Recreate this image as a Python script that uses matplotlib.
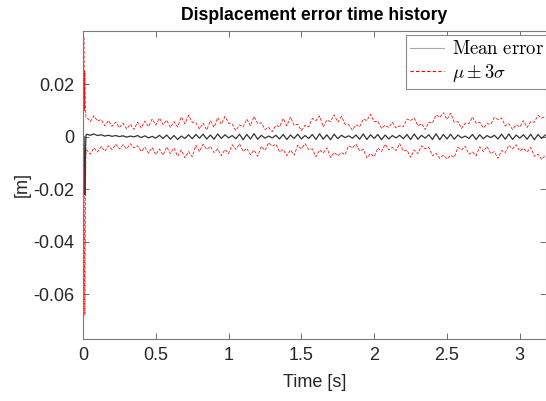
import matplotlib
matplotlib.use('Agg')
import matplotlib.pyplot as plt
from matplotlib.lines import Line2D
import numpy as np

plt.rcParams['font.family'] = ['Liberation Sans', 'DejaVu Sans']
plt.rcParams['mathtext.fontset'] = 'cm'
plt.rcParams['axes.unicode_minus'] = False

# start-up transient (s, mm)
t_start = [0.007, 0.01, 0.013, 0.016, 0.02]
mean_start = [0.0, -8.0, -22.0, -10.0, 0.5]
upper_start = [38.0, 10.0, 25.0, 12.0, 7.5]
lower_start = [-12.0, -40.0, -68.0, -30.0, -6.0]

# steady part, sampled every 0.025 s from 0.025 s (values in mm)
mean_mm = [
    1.0, 0.6, 1.1, 0.5, 0.8, 0.3, 0.6, 0.2, 0.5, 0.1,
    0.4, -0.1, 0.3, 0.0, 0.5, -0.3, 0.4, -0.4, 0.2, -0.5,
    0.6, -0.6, 0.7, -0.9, 0.5, -1.0, 0.3, -0.6, 0.8, -0.7,
    0.9, -0.5, 1.0, -0.8, 0.7, -0.9, 1.1, -0.6, 0.8, -0.4,
    0.5, -0.7, 1.0, -1.1, 0.9, -0.8, 1.2, -0.9, 0.6, -0.5,
    0.3, -0.4, 0.6, -0.8, 0.9, -1.0, 0.7, -0.6, 1.0, -0.8,
    0.5, -0.6, 0.9, -1.0, 1.2, -0.9, 0.8, -1.1, 1.0, -0.7,
    0.6, -0.3, 0.4, -0.5, 0.7, -0.9, 1.1, -1.0, 0.8, -0.6,
    0.9, -1.1, 0.7, -0.8, 0.5, -0.4, 0.6, -0.7, 0.9, -1.0,
    1.1, -0.9, 0.6, -0.5, 0.8, -1.0, 1.2, -1.1, 0.9, -0.8,
    1.0, -0.9, 0.7, -0.4, 0.3, -0.6, 0.9, -1.0, 0.8, -0.7,
    0.5, -0.3, 0.6, -0.8, 1.0, -0.9, 1.1, -1.0, 0.7, -0.5,
    0.8, -0.9, 1.0, -1.1, 0.9, -0.6, 0.7,
]
upper_mm = [
    7.5, 5.8, 8.0, 6.0, 6.6, 4.2, 6.2, 4.0, 5.6, 3.5,
    5.2, 3.0, 4.8, 2.8, 5.6, 3.4, 6.0, 3.9, 6.8, 4.5,
    7.2, 4.6, 6.4, 3.6, 5.8, 3.8, 7.6, 5.0, 8.2, 5.6,
    5.4, 3.0, 5.2, 2.6, 6.2, 3.6, 7.4, 4.8, 7.8, 5.2,
    4.8, 2.4, 4.6, 3.8, 6.8, 4.2, 7.8, 5.0, 5.4, 2.8,
    3.6, 2.0, 4.4, 3.8, 7.0, 4.2, 7.6, 4.4, 4.8, 2.4,
    4.4, 3.8, 7.0, 6.2, 8.0, 3.8, 6.4, 5.8, 8.4, 5.6,
    7.8, 4.8, 4.6, 2.6, 4.6, 3.8, 6.8, 6.2, 8.6, 5.8,
    6.0, 3.2, 4.4, 3.6, 5.6, 3.4, 4.2, 3.8, 6.8, 6.2,
    7.2, 4.2, 5.0, 2.8, 5.6, 5.2, 8.4, 7.4, 9.2, 6.6,
    9.0, 5.6, 5.8, 3.2, 5.2, 5.0, 7.6, 5.2, 5.6, 3.4,
    5.0, 4.8, 7.4, 6.6, 7.2, 4.2, 5.0, 2.8, 4.6, 3.8,
    6.2, 3.6, 5.8, 5.6, 8.2, 7.2, 7.6,
]
lower_mm = [
    -5.0, -6.6, -4.2, -5.8, -3.6, -5.5, -3.4, -4.9, -2.8, -4.6,
    -3.0, -4.6, -2.6, -4.2, -3.4, -5.6, -3.9, -6.2, -4.1, -6.8,
    -4.6, -7.0, -3.8, -6.4, -4.2, -7.4, -5.0, -8.0, -5.6, -7.6,
    -3.2, -5.6, -2.8, -4.8, -3.6, -6.0, -4.6, -7.2, -4.8, -6.4,
    -3.0, -4.8, -2.6, -5.6, -4.4, -6.8, -5.0, -7.4, -3.6, -5.2,
    -2.2, -3.6, -2.8, -5.8, -4.8, -7.2, -5.0, -7.0, -3.2, -4.6,
    -2.6, -4.8, -4.6, -7.6, -5.0, -6.2, -4.2, -7.8, -6.0, -7.2,
    -6.0, -6.8, -3.4, -4.2, -2.8, -5.4, -4.8, -8.0, -6.4, -7.6,
    -4.2, -5.6, -2.8, -5.0, -4.0, -5.2, -2.6, -5.4, -5.0, -7.8,
    -5.0, -6.4, -3.4, -4.6, -4.0, -7.2, -6.2, -8.2, -7.0, -8.4,
    -7.0, -7.8, -4.0, -5.0, -3.6, -6.6, -5.8, -7.2, -3.8, -5.6,
    -3.6, -6.4, -5.6, -8.2, -5.2, -6.0, -3.2, -4.6, -3.0, -5.4,
    -4.4, -5.8, -4.0, -7.4, -6.6, -8.6, -7.0,
]
dt = 0.025

t = np.concatenate([t_start, dt * np.arange(1, len(mean_mm) + 1)])
mu = np.concatenate([mean_start, mean_mm]) / 1000.0
upper = np.concatenate([upper_start, upper_mm]) / 1000.0
lower = np.concatenate([lower_start, lower_mm]) / 1000.0

fig = plt.figure(figsize=(5.46, 4.01), dpi=100)
ax = fig.add_axes([0.152, 0.155, 0.848, 0.768])

ax.plot(t, mu, color='#333333', lw=0.9)
ax.plot(t, upper, color='red', lw=0.55, ls=(0, (4, 2)))
ax.plot(t, lower, color='red', lw=0.55, ls=(0, (4, 2)))

ax.set_xlim(0, 3.18)
ax.set_ylim(-0.077, 0.0404)
ax.set_xticks([0, 0.5, 1, 1.5, 2, 2.5, 3])
ax.set_xticklabels(['0', '0.5', '1', '1.5', '2', '2.5', '3'])
ax.set_yticks([-0.06, -0.04, -0.02, 0, 0.02])
ax.set_yticklabels(['-0.06', '-0.04', '-0.02', '0', '0.02'])
ax.tick_params(direction='in', top=True, right=True, length=4, width=0.6,
               color='#555555', labelsize=13, labelcolor='#262626', pad=6)
for s in ax.spines.values():
    s.set_color('#7a7a7a')
    s.set_linewidth(0.8)

ax.set_xlabel('Time [s]', fontsize=13, color='#262626', labelpad=7)
ax.set_ylabel('[m]', fontsize=13, color='#262626', labelpad=2)
ax.set_title('Displacement error time history', fontsize=12.7, fontweight='bold', pad=8)

handles = [Line2D([], [], color='#a8a8a8', lw=0.8),
           Line2D([], [], color='red', lw=0.8, ls=(0, (3, 2)))]
leg = ax.legend(handles, [r'$\mathrm{Mean\ error}$', r'$\mu \pm 3\sigma$'],
                loc='upper right', bbox_to_anchor=(1.005, 0.985), fontsize=13.5,
                fancybox=False, framealpha=1, edgecolor='#8a8a8a',
                handlelength=1.8, handletextpad=0.4, borderpad=0.25,
                labelspacing=0.2, borderaxespad=0)
leg.get_frame().set_linewidth(0.8)

fig.savefig('out.png', dpi=100)
